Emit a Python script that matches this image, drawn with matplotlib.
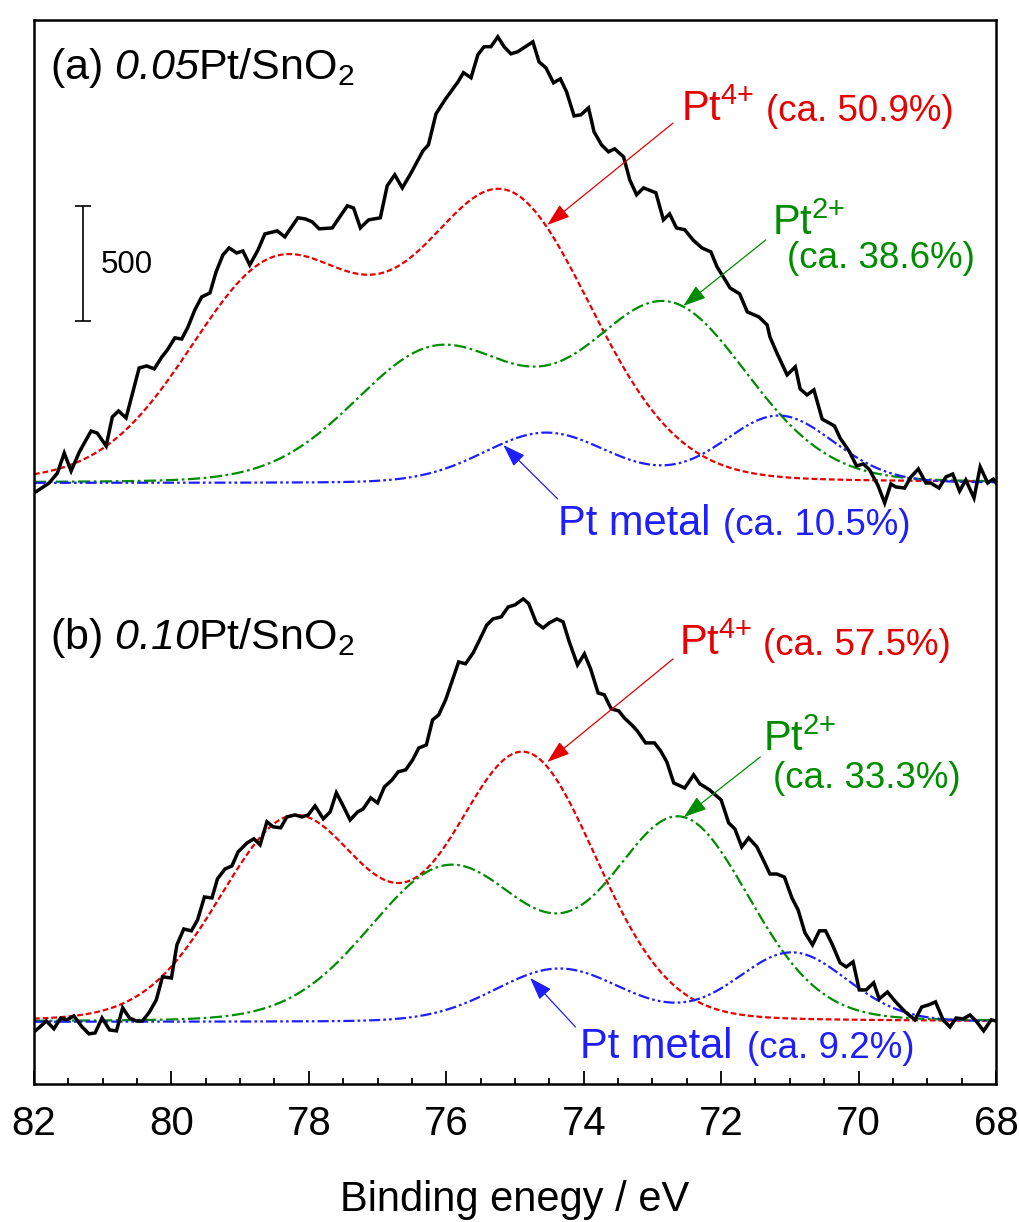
import numpy as np
import matplotlib
matplotlib.use("Agg")
import matplotlib.pyplot as plt
from matplotlib.ticker import MultipleLocator

plt.rcParams["font.family"] = ["Liberation Sans", "DejaVu Sans"]
plt.rcParams["mathtext.fontset"] = "custom"
plt.rcParams["mathtext.rm"] = "Liberation Sans"
plt.rcParams["mathtext.it"] = "Liberation Sans:italic"
plt.rcParams["mathtext.bf"] = "Liberation Sans:bold"
# \mathsf is used for italic digits (mathtext.it sends digits back to rm)
plt.rcParams["mathtext.sf"] = "Liberation Sans:italic"

# Pt 4f spectra: binding energy (eV) and counts above the Shirley baseline
energy_a = [82.00, 81.93, 81.78, 81.66, 81.56, 81.46, 81.34, 81.17, 81.08, 80.95,
            80.86, 80.77, 80.66, 80.47, 80.36, 80.25, 80.14, 80.06, 79.95, 79.85,
            79.76, 79.66, 79.56, 79.44, 79.35, 79.25, 79.16, 79.05, 78.96, 78.86,
            78.74, 78.64, 78.46, 78.35, 78.16, 78.05, 77.95, 77.85, 77.66, 77.44,
            77.35, 77.25, 77.13, 76.96, 76.86, 76.75, 76.64, 76.52, 76.34, 76.26,
            76.15, 76.01, 75.83, 75.75, 75.64, 75.54, 75.45, 75.35, 75.25, 75.16,
            75.06, 74.96, 74.74, 74.65, 74.55, 74.44, 74.34, 74.25, 74.14, 74.04,
            73.93, 73.85, 73.74, 73.64, 73.55, 73.42, 73.33, 73.23, 73.13, 72.95,
            72.84, 72.75, 72.65, 72.53, 72.41, 72.28, 72.15, 72.06, 71.96, 71.87,
            71.73, 71.62, 71.45, 71.33, 71.29, 71.19, 71.04, 70.92, 70.85, 70.75,
            70.65, 70.53, 70.35, 70.27, 70.13, 70.03, 69.93, 69.84, 69.72, 69.62,
            69.53, 69.46, 69.33, 69.24, 69.13, 69.02, 68.95, 68.83, 68.73, 68.63,
            68.53, 68.44, 68.32, 68.23, 68.12, 68.04, 68.00]
counts_a = [-43, -30, 0, 43, 130, 52, 135, 226, 217, 161,
            287, 313, 283, 500, 509, 496, 548, 578, 631, 626,
            678, 752, 809, 826, 918, 992, 1022, 1000, 1009, 948,
            1013, 1083, 1096, 1070, 1153, 1148, 1135, 1105, 1109, 1205,
            1196, 1109, 1144, 1153, 1292, 1340, 1283, 1344, 1444, 1470,
            1605, 1670, 1744, 1784, 1762, 1862, 1897, 1897, 1940, 1897,
            1866, 1875, 1918, 1831, 1805, 1740, 1757, 1701, 1596, 1601,
            1631, 1527, 1470, 1440, 1453, 1418, 1318, 1253, 1283, 1262,
            1144, 1170, 1109, 1101, 1057, 1022, 1005, 940, 892, 848,
            822, 744, 722, 687, 635, 566, 470, 505, 409, 383,
            405, 278, 248, 196, 135, 74, 83, 57, -9, -87,
            -4, -17, -22, 26, 61, 0, 0, -22, 26, 39,
            -35, 13, -65, 70, 0, 17, 0]

energy_b = [82.00, 81.93, 81.82, 81.71, 81.61, 81.52, 81.42, 81.30, 81.20, 81.11,
            81.01, 80.90, 80.80, 80.71, 80.61, 80.51, 80.42, 80.32, 80.22, 80.13,
            80.00, 79.92, 79.82, 79.71, 79.62, 79.52, 79.41, 79.33, 79.22, 79.12,
            79.03, 78.90, 78.80, 78.71, 78.61, 78.52, 78.41, 78.32, 78.20, 78.10,
            78.01, 77.91, 77.79, 77.69, 77.60, 77.50, 77.40, 77.29, 77.21, 77.10,
            77.00, 76.90, 76.79, 76.70, 76.59, 76.49, 76.40, 76.29, 76.20, 76.11,
            76.01, 75.91, 75.82, 75.72, 75.61, 75.53, 75.41, 75.32, 75.20, 75.10,
            75.00, 74.88, 74.80, 74.69, 74.59, 74.50, 74.39, 74.30, 74.21, 74.09,
            73.99, 73.90, 73.79, 73.70, 73.60, 73.49, 73.41, 73.30, 73.22, 73.10,
            72.97, 72.88, 72.79, 72.69, 72.53, 72.40, 72.31, 72.17, 72.00, 71.89,
            71.80, 71.70, 71.60, 71.48, 71.38, 71.29, 71.19, 71.08, 70.97, 70.88,
            70.78, 70.67, 70.57, 70.48, 70.38, 70.27, 70.18, 70.08, 69.99, 69.89,
            69.78, 69.70, 69.58, 69.46, 69.32, 69.18, 69.08, 68.98, 68.88, 68.77,
            68.67, 68.58, 68.48, 68.38, 68.29, 68.18, 68.07, 68.00]
counts_b = [-43, -26, 4, -30, 17, 9, 26, -22, -52, -48,
            17, -35, -39, 61, 17, 4, 4, 43, 96, 196,
            191, 335, 404, 396, 443, 543, 539, 622, 665, 678,
            739, 778, 796, 770, 870, 848, 844, 891, 900, 891,
            900, 939, 883, 913, 996, 939, 878, 913, 926, 974,
            952, 1022, 1052, 1087, 1096, 1139, 1191, 1204, 1313, 1335,
            1400, 1487, 1565, 1557, 1604, 1652, 1726, 1752, 1761, 1804,
            1813, 1839, 1818, 1735, 1713, 1735, 1752, 1739, 1652, 1552,
            1600, 1535, 1430, 1422, 1361, 1352, 1322, 1291, 1265, 1213,
            1213, 1178, 1130, 1039, 1017, 1074, 1035, 1009, 965, 865,
            839, 761, 800, 761, 700, 643, 643, 630, 539, 487,
            387, 335, 396, 396, 335, 257, 239, 261, 139, 139,
            170, 100, 130, 87, 43, 9, 65, 74, 87, 9,
            -22, 17, 13, 30, 4, -39, 9, 4]

# fitted 4f7/2 / 4f5/2 doublets: centre (eV), height (counts), FWHM (eV)
pt4_center_a = [75.15, 78.48]
pt4_height_a = [1233, 930]
pt4_fwhm_a = [3.0, 3.0]
pt2_center_a = [72.80, 76.13]
pt2_height_a = [770, 574]
pt2_fwhm_a = [2.8, 2.85]
pt0_center_a = [71.16, 74.55]
pt0_height_a = [291, 217]
pt0_fwhm_a = [1.9, 2.15]

pt4_center_b = [74.87, 78.22]
pt4_height_b = [1157, 878]
pt4_fwhm_b = [2.5, 2.55]
pt2_center_b = [72.60, 75.95]
pt2_height_b = [874, 670]
pt2_fwhm_b = [2.4, 2.75]
pt0_center_b = [70.97, 74.36]
pt0_height_b = [300, 230]
pt0_fwhm_b = [1.9, 2.2]

# area fractions (%) for Pt4+, Pt2+, Pt metal
share_a = [50.9, 38.6, 10.5]
share_b = [57.5, 33.3, 9.2]

RED = "#e60000"
GREEN = "#008c00"
BLUE = "#1e1eff"


def doublet(e, centers, heights, fwhms, mix=0.1):
    # pseudo-Voigt (mostly Gaussian) sum of the two spin-orbit peaks
    out = np.zeros_like(e)
    for c, h, w in zip(centers, heights, fwhms):
        x = (e - c) / w
        out += h * ((1 - mix) * np.exp(-4 * np.log(2) * x ** 2) + mix / (1 + 4 * x ** 2))
    return out


fig = plt.figure(figsize=(10.2, 12.22), dpi=100)
ax = fig.add_axes([34 / 1020, 1 - 1084 / 1222, 962 / 1020, 1064 / 1222])

grid = np.linspace(82, 68, 800)
off_a = 2613
off_b = 270

fits = [
    (off_a, energy_a, counts_a,
     [(pt4_center_a, pt4_height_a, pt4_fwhm_a), (pt2_center_a, pt2_height_a, pt2_fwhm_a),
      (pt0_center_a, pt0_height_a, pt0_fwhm_a)]),
    (off_b, energy_b, counts_b,
     [(pt4_center_b, pt4_height_b, pt4_fwhm_b), (pt2_center_b, pt2_height_b, pt2_fwhm_b),
      (pt0_center_b, pt0_height_b, pt0_fwhm_b)]),
]
styles = [
    dict(color=RED, lw=1.6, ls=(0, (2.6, 1.3))),
    dict(color=GREEN, lw=1.6, ls=(0, (5.5, 1.6, 1.2, 1.6))),
    dict(color=BLUE, lw=1.6, ls=(0, (5.0, 1.4, 1.2, 1.4, 1.2, 1.4))),
]

for off, e, c, comps in fits:
    for (cen, hgt, fw), st in zip(comps, styles):
        ax.plot(grid, off + doublet(grid, cen, hgt, fw), **st)
    ax.plot(e, off + np.array(c), color="black", lw=2.5, solid_joinstyle="miter")

# sample titles
ax.text(81.76, 4370, r"(a) $\mathsf{0.05}$Pt/SnO$_2$", fontsize=31, va="baseline")
ax.text(81.76, 1891, r"(b) $\mathsf{0.10}$Pt/SnO$_2$", fontsize=31, va="baseline")

# 500-count scale bar
ax.errorbar(81.28, 3567, yerr=250, color="black", lw=1.2, capsize=5.6, capthick=1.2)
ax.text(81.03, 3561, "500", fontsize=22.5, va="center")

arrow_kw = dict(arrowstyle="-|>,head_length=0.7,head_width=0.24", mutation_scale=20,
                lw=0.9, shrinkA=0, shrinkB=0)


def label(tip, tail, name_xy, name, pct_xy, pct, color, name_size=30, pct_size=26.5):
    ax.annotate("", xy=tip, xytext=tail, arrowprops=dict(color=color, **arrow_kw))
    ax.text(*name_xy, name, color=color, fontsize=name_size, va="baseline")
    ax.text(*pct_xy, "(ca. %.1f%%)" % pct, color=color, fontsize=pct_size, va="baseline")


label((74.53, 3735), (72.70, 4178), (72.59, 4187), r"Pt$^{4{+}}$",
      (71.35, 4187), share_a[0], RED)
label((72.55, 3383), (71.35, 3670), (71.26, 3691), r"Pt$^{2{+}}$",
      (71.04, 3548), share_a[1], GREEN)
label((75.17, 2778), (74.38, 2544), (74.37, 2387), "Pt metal",
      (71.98, 2387), share_a[2], BLUE)

label((74.53, 1400), (72.70, 1848), (72.61, 1865), r"Pt$^{4{+}}$",
      (71.39, 1865), share_b[0], RED)
label((72.54, 1161), (71.43, 1422), (71.39, 1448), r"Pt$^{2{+}}$",
      (71.24, 1287), share_b[1], GREEN)
label((74.78, 461), (74.12, 248), (74.05, 113), "Pt metal",
      (71.62, 113), share_b[2], BLUE)

ax.set_xlim(82, 68)
ax.set_ylim(0, 4626)
ax.xaxis.set_major_locator(MultipleLocator(2))
ax.xaxis.set_minor_locator(MultipleLocator(0.5))
ax.tick_params(axis="x", which="major", direction="in", length=9.5, width=1.3,
               labelsize=29, pad=15)
ax.tick_params(axis="x", which="minor", direction="in", length=4.5, width=1.3)
ax.tick_params(axis="y", left=False, labelleft=False)
for sp in ax.spines.values():
    sp.set_linewidth(1.8)
ax.set_xlabel("Binding enegy / eV", fontsize=30, labelpad=27)

fig.savefig("out.png", dpi=100)
